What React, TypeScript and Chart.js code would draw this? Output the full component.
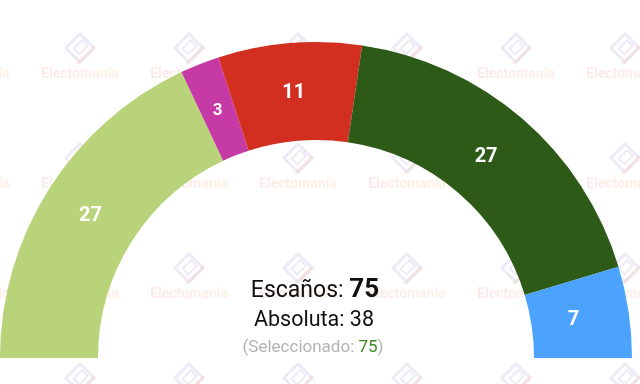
import React, { useEffect, useRef } from "react";
import { Chart, registerables } from "chart.js";

Chart.register(...registerables);

const parties = ["A", "B", "C", "D", "E"];
const seats = [27, 3, 11, 27, 7];
const colors = ["#b9d37a", "#c63aa5", "#d22f21", "#2e5a18", "#4ba3fd"];
const totalSeats = 75;
const majority = 38;
const selected = 75;
const watermarkText = "Electomanía";

const watermarkPlugin = {
  id: "watermark",
  beforeDraw(chart: any) {
    const ctx = chart.ctx as CanvasRenderingContext2D;
    ctx.save();
    const colX = [-29, 80, 189, 298, 407, 516, 625];
    const rowY = [73, 183, 293, 403];
    for (const y of rowY) {
      for (const x of colX) {
        const ly = y - 25;
        ctx.save();
        ctx.translate(x, ly);
        ctx.rotate(Math.PI / 4);
        ctx.strokeStyle = "rgba(200,185,225,0.3)";
        ctx.lineWidth = 3;
        ctx.lineJoin = "round";
        ctx.strokeRect(-10, -10, 20, 20);
        ctx.lineWidth = 2;
        ctx.strokeRect(-4, -7, 8, 12);
        ctx.restore();
        ctx.strokeStyle = "rgba(245,200,170,0.3)";
        ctx.lineWidth = 3;
        ctx.lineCap = "round";
        ctx.beginPath();
        ctx.moveTo(x - 2, ly + 15);
        ctx.lineTo(x + 14, ly - 1);
        ctx.stroke();
        ctx.font = "bold 14px Roboto";
        ctx.textAlign = "center";
        ctx.textBaseline = "alphabetic";
        const g = ctx.createLinearGradient(x - 44, 0, x + 44, 0);
        g.addColorStop(0, "rgba(236,170,170,0.25)");
        g.addColorStop(1, "rgba(250,200,150,0.25)");
        ctx.fillStyle = g;
        ctx.fillText(watermarkText, x, y + 5);
      }
    }
    ctx.restore();
  },
};

const labelPlugin = {
  id: "labels",
  afterDraw(chart: any) {
    const ctx = chart.ctx as CanvasRenderingContext2D;
    const meta = chart.getDatasetMeta(0);
    ctx.save();
    ctx.fillStyle = "#ffffff";
    ctx.textAlign = "center";
    ctx.textBaseline = "middle";
    meta.data.forEach((arc: any, i: number) => {
      const p = arc.tooltipPosition();
      const size = seats[i] < 5 ? 17 : 20;
      ctx.font = `bold ${size}px Roboto`;
      const shift = p.x > arc.x ? -(p.x - arc.x) * 0.025 : 0;
      ctx.fillText(String(seats[i]), p.x + shift, p.y + 1.5);
    });
    const arc0 = meta.data[0];
    const cx = arc0.x;
    const cy = arc0.y;
    ctx.textBaseline = "alphabetic";
    ctx.textAlign = "left";
    ctx.fillStyle = "#111111";
    const a = "Escaños: ";
    const b = String(totalSeats);
    ctx.font = "23px Roboto";
    const wa = ctx.measureText(a).width;
    ctx.font = "bold 26px Roboto";
    const wb = ctx.measureText(b).width;
    let x0 = cx - 1 - (wa + wb) / 2;
    ctx.font = "23px Roboto";
    ctx.fillText(a, x0, cy - 61);
    ctx.font = "bold 26px Roboto";
    ctx.fillText(b, x0 + wa, cy - 61);

    ctx.textAlign = "center";
    ctx.font = "21.5px Roboto";
    ctx.fillText(`Absoluta: ${majority}`, cx - 2, cy - 32);

    const s1 = "(Seleccionado: ";
    const s2 = String(selected);
    const s3 = ")";
    ctx.font = "17px Roboto";
    const w1 = ctx.measureText(s1).width;
    const w2 = ctx.measureText(s2).width;
    const w3 = ctx.measureText(s3).width;
    x0 = cx - 3 - (w1 + w2 + w3) / 2;
    ctx.textAlign = "left";
    ctx.fillStyle = "#b3b3b3";
    ctx.fillText(s1, x0, cy - 6);
    ctx.fillStyle = "#3a8a20";
    ctx.fillText(s2, x0 + w1, cy - 6);
    ctx.fillStyle = "#b3b3b3";
    ctx.fillText(s3, x0 + w1 + w2, cy - 6);
    ctx.restore();
  },
};

export default function App() {
  const ref = useRef<HTMLCanvasElement | null>(null);
  useEffect(() => {
    document.body.style.margin = "0";
    const chart = new Chart(ref.current!, {
      type: "doughnut",
      data: {
        labels: parties,
        datasets: [
          {
            data: seats,
            backgroundColor: colors,
            borderWidth: 0,
          },
        ],
      },
      options: {
        responsive: false,
        animation: false,
        rotation: -90,
        circumference: 180,
        cutout: "69%",
        layout: { padding: { left: 0, right: 8, top: 42, bottom: 26 } },
        plugins: {
          legend: { display: false },
          tooltip: { enabled: false },
        },
      },
      plugins: [watermarkPlugin, labelPlugin],
    });
    return () => chart.destroy();
  }, []);
  return (
    <div style={{ width: 640, height: 384, background: "#fff" }}>
      <canvas ref={ref} width={640} height={384} />
    </div>
  );
}
